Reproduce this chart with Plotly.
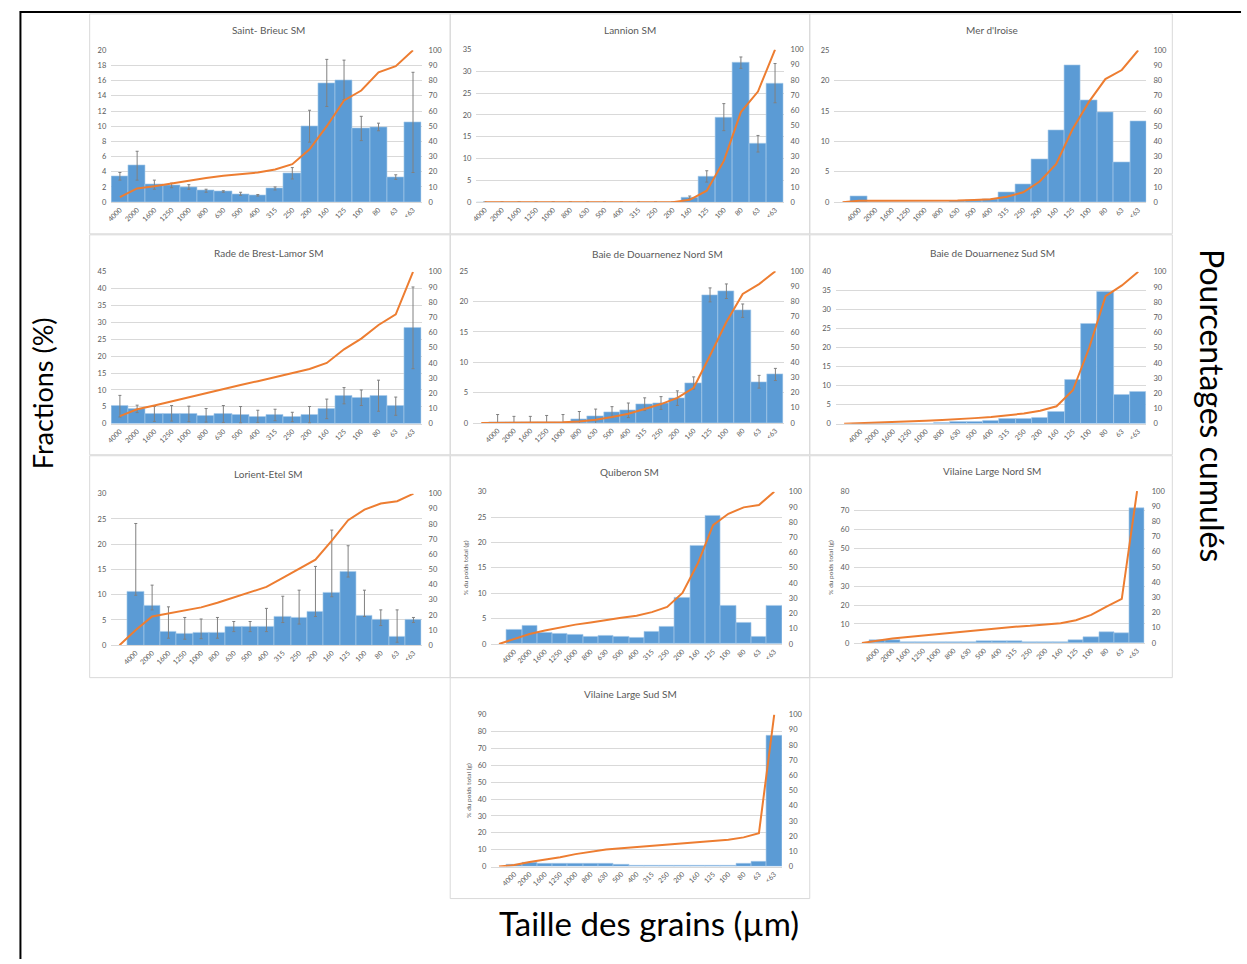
import plotly.graph_objects as go

W, H = 1247, 964

# Sieve classes (µm)
SIZES = ["4000", "2000", "1600", "1250", "1000", "800", "630", "500", "400",
         "315", "250", "200", "160", "125", "100", "80", "63", "<63"]

# ---- Weight fractions (%) per sieve class, error bars, cumulative curves ----
SB_FRAC = [3.4, 4.8, 2.3, 2.2, 2.0, 1.5, 1.4, 1.1, 0.9, 1.8, 3.8, 10.0, 15.7, 16.1, 9.7, 9.9, 3.3, 10.5]
SB_ERR = [0.5, 1.9, 0.6, 0.3, 0.3, 0.2, 0.1, 0.2, 0.1, 0.2, 0.75, 2.1, 3.1, 2.6, 1.6, 0.5, 0.3, 6.6]
SB_CUM = [3.3, 9, 10.4, 12.4, 14.2, 15.9, 17.4, 18.5, 19.5, 21.5, 25, 34.8, 50, 67, 73.5, 85.5, 89.5, 100]

LAN_FRAC = [0, 0, 0, 0, 0, 0, 0, 0, 0, 0, 0, 0, 1.1, 5.9, 19.5, 32.0, 13.4, 27.3]
LAN_ERR = [0, 0, 0, 0, 0, 0, 0, 0, 0, 0, 0, 0, 0.3, 1.3, 3.1, 1.3, 1.9, 4.5]
LAN_CUM = [0, 0, 0, 0, 0, 0, 0, 0, 0, 0, 0, 0, 1.5, 7.5, 27, 59, 72.5, 100]

IRO_FRAC = [0.9, 0, 0, 0, 0, 0, 0.2, 0.3, 0.5, 1.6, 3.0, 7.1, 11.8, 22.6, 16.7, 14.8, 6.5, 13.3]
IRO_CUM = [0, 0.9, 0.9, 0.9, 0.9, 0.9, 0.9, 1.1, 1.4, 1.9, 3.5, 6.5, 13.6, 25, 48, 66, 81, 87, 100]

RAD_FRAC = [5.2, 4.4, 2.9, 3.1, 2.9, 2.5, 2.9, 2.7, 2.2, 2.6, 2.0, 2.7, 4.4, 8.3, 7.7, 8.3, 5.2, 28.4]
RAD_ERR = [3.2, 1.1, 2.2, 2.3, 2.3, 2.0, 2.5, 2.4, 1.8, 1.7, 1.4, 2.4, 2.9, 2.4, 2.3, 4.6, 2.7, 12.1]
RAD_CUM = [5, 9.5, 12, 14.8, 17.5, 20.2, 23, 25.5, 28, 30.5, 33, 36, 40, 49, 56, 65, 72, 100]

DN_FRAC = [0.1, 0.1, 0.1, 0.1, 0.1, 0.6, 1.1, 1.8, 2.1, 3.1, 3.3, 4.1, 6.6, 21.1, 21.7, 18.5, 6.8, 8.0]
DN_ERR = [1.3, 1.0, 1.0, 1.15, 1.3, 1.3, 1.2, 0.9, 1.2, 1.05, 1.05, 1.2, 1.0, 1.15, 1.2, 1.1, 1.05, 1.0]
DN_CUM = [0, 0.1, 0.2, 0.3, 0.4, 0.5, 1.1, 2.2, 4.0, 6.1, 9.2, 12.5, 16.6, 23.2, 44.5, 66.5, 85, 91.5, 100]

DS_FRAC = [0.1, 0.1, 0.1, 0.1, 0.1, 0.2, 0.4, 0.6, 0.7, 1.2, 1.3, 1.7, 3.2, 11.6, 26.2, 34.7, 7.5, 8.5]
DS_CUM = [0, 0.3, 0.6, 1.0, 1.5, 2.0, 2.5, 3.0, 3.7, 4.5, 5.5, 6.7, 8.5, 11.5, 22, 50, 84, 91, 100]

LOR_FRAC = [10.7, 7.8, 2.6, 2.2, 2.5, 2.5, 3.6, 3.6, 3.6, 5.7, 5.4, 6.7, 10.4, 14.5, 5.9, 5.0, 1.6, 5.0]
LOR_ERR_UP = [13.4, 4.1, 5.0, 3.3, 2.7, 3.0, 1.1, 1.1, 3.7, 4.0, 5.5, 8.9, 12.4, 5.2, 5.0, 2.0, 5.4, 0.5]
LOR_ERR_DOWN = [0.8, 0.8, 1.2, 1.0, 1.2, 1.1, 0.9, 0.9, 0.9, 1.2, 1.2, 1.0, 0.8, 1.0, 0.2, 1.1, 1.0, 0.5]
LOR_CUM = [0, 10, 19, 21, 23, 25, 28, 31.5, 34.5, 38.5, 44.5, 50.5, 56.5, 69, 82.5, 89.5, 93.5, 95, 100]

QUI_FRAC = [2.9, 3.6, 2.3, 2.1, 1.8, 1.4, 1.7, 1.4, 1.3, 2.4, 3.4, 9.2, 19.3, 25.2, 7.5, 4.2, 1.5, 7.6]
QUI_CUM = [0, 3, 6.5, 8.8, 10.9, 12.7, 14.1, 15.8, 17.2, 18.5, 20.9, 24.3, 33.5, 52.8, 78, 85.5, 89.7, 91.2, 100]

VLN_FRAC = [1.5, 1.5, 0.5, 0.5, 0.5, 0.5, 0.5, 1.0, 1.0, 1.0, 0.7, 0.7, 0.7, 1.5, 3.0, 5.8, 5.2, 71.3]
VLN_CUM = [0, 1.5, 3, 4, 5, 6, 7, 8, 9, 10, 10.7, 11.3, 12, 13, 15, 18.5, 24, 29, 100]

VLS_FRAC = [1.0, 2.2, 1.5, 1.7, 2.0, 1.6, 1.5, 1.0, 0.8, 0.8, 0.8, 0.8, 0.8, 0.8, 0.8, 1.5, 2.8, 77.3]
VLS_CUM = [0, 1, 3, 4.5, 6.2, 8.2, 9.8, 11.2, 12, 12.8, 13.6, 14.4, 15.2, 16, 16.8, 17.6, 19.2, 22, 100]

STATIONS = [
    dict(title="Saint- Brieuc SM", frac=SB_FRAC, up=SB_ERR, down=SB_ERR, cum=SB_CUM, ymax=20, dtick=2),
    dict(title="Lannion SM", frac=LAN_FRAC, up=LAN_ERR, down=LAN_ERR, cum=LAN_CUM, ymax=35, dtick=5),
    dict(title="Mer d'Iroise", frac=IRO_FRAC, cum=IRO_CUM, ymax=25, dtick=5),
    dict(title="Rade de Brest-Lamor SM", frac=RAD_FRAC, up=RAD_ERR, down=RAD_ERR, cum=RAD_CUM, ymax=45, dtick=5),
    dict(title="Baie de Douarnenez Nord SM", frac=DN_FRAC, up=DN_ERR, down=DN_ERR, cum=DN_CUM, ymax=25, dtick=5),
    dict(title="Baie de Douarnenez Sud SM", frac=DS_FRAC, cum=DS_CUM, ymax=40, dtick=5),
    dict(title="Lorient-Etel SM", frac=LOR_FRAC, up=LOR_ERR_UP, down=LOR_ERR_DOWN, cum=LOR_CUM, ymax=30, dtick=5),
    dict(title="Quiberon SM", frac=QUI_FRAC, cum=QUI_CUM, ymax=30, dtick=5, ytitle=True),
    dict(title="Vilaine Large Nord SM", frac=VLN_FRAC, cum=VLN_CUM, ymax=80, dtick=10, ytitle=True),
    dict(title="Vilaine Large Sud SM", frac=VLS_FRAC, cum=VLS_CUM, ymax=90, dtick=10, ytitle=True),
]

# Panel geometry in pixels: chart frame, plot area, title centre, y-title x
LAYOUT_PX = [
    dict(frame=(85, 10, 447, 232), plot=(106.7, 46.7, 418.3, 200.0), tpos=(265, 26)),
    dict(frame=(447, 10, 808, 232), plot=(473.3, 46.0, 781.7, 200.0), tpos=(628, 26)),
    dict(frame=(808, 10, 1172, 232), plot=(832.7, 46.7, 1146.0, 200.0), tpos=(991, 26)),
    dict(frame=(85, 233, 447, 455), plot=(106.7, 270.3, 418.3, 423.7), tpos=(265, 251)),
    dict(frame=(447, 233, 808, 455), plot=(470.0, 269.7, 781.7, 423.0), tpos=(655, 252)),
    dict(frame=(808, 233, 1172, 455), plot=(834.3, 270.3, 1146.0, 423.7), tpos=(991, 251)),
    dict(frame=(85, 456, 447, 680), plot=(106.7, 494.3, 418.3, 647.3), tpos=(265, 474)),
    dict(frame=(447, 456, 808, 680), plot=(488.3, 492.3, 780.0, 646.0), tpos=(627, 472), ytx=463),
    dict(frame=(808, 456, 1172, 680), plot=(852.7, 491.7, 1144.3, 645.0), tpos=(991, 471), ytx=828),
    dict(frame=(447, 680, 808, 903), plot=(488.3, 717.3, 780.0, 870.7), tpos=(628, 697), ytx=465),
]

BAR_BLUE = "#5B9BD5"
LINE_ORANGE = "#ED7D31"
GRID = "#D9D9D9"
TXT = "#595959"
FONT = "Lato, 'Open Sans', sans-serif"


def fx(x):
    return x / W


def fy(y):
    return 1 - y / H


fig = go.Figure()
layout = dict(
    width=W, height=H, margin=dict(l=0, r=0, t=0, b=0),
    paper_bgcolor="white", plot_bgcolor="white", showlegend=False,
    font=dict(family=FONT, color=TXT), bargap=0,
)
shapes = []
annotations = []

for i, (st, geo) in enumerate(zip(STATIONS, LAYOUT_PX)):
    xn = i + 1
    yl, yr = 2 * i + 1, 2 * i + 2
    xref = "x" if xn == 1 else f"x{xn}"
    ylref = "y" if yl == 1 else f"y{yl}"
    yrref = f"y{yr}"
    xkey = "xaxis" if xn == 1 else f"xaxis{xn}"
    ylkey = "yaxis" if yl == 1 else f"yaxis{yl}"
    yrkey = f"yaxis{yr}"

    ncat = len(st["cum"])
    lead = ncat - len(st["frac"])  # an empty leading class carries the 0 start of the curve
    bar_x = [lead + j for j in range(len(st["frac"]))]
    line_x = list(range(ncat))

    err = None
    if "up" in st:
        err = dict(type="data", symmetric=False, array=st["up"], arrayminus=st["down"],
                   color="#808080", thickness=1, width=1.5)

    fig.add_trace(go.Bar(
        x=bar_x, y=st["frac"], xaxis=xref, yaxis=ylref, width=1.0,
        marker=dict(color=BAR_BLUE, line=dict(color="#A9CBEA", width=0.6)),
        error_y=err, hoverinfo="skip",
    ))
    fig.add_trace(go.Scatter(
        x=line_x, y=st["cum"], xaxis=xref, yaxis=yrref, mode="lines",
        line=dict(color=LINE_ORANGE, width=2), cliponaxis=False, hoverinfo="skip",
    ))

    x0, y0, x1, y1 = geo["plot"]
    layout[xkey] = dict(
        domain=[fx(x0), fx(x1)], anchor=ylref, range=[-0.5, ncat - 0.5],
        tickmode="array", tickvals=bar_x, ticktext=SIZES, tickangle=-45,
        tickfont=dict(size=7, color=TXT, family=FONT), showgrid=False,
        showline=True, linecolor=GRID, linewidth=1, ticks="", fixedrange=True,
    )
    layout[ylkey] = dict(
        domain=[fy(y1), fy(y0)], anchor=xref, range=[0, st["ymax"]], dtick=st["dtick"],
        showgrid=True, gridcolor=GRID, gridwidth=1, zeroline=False, showline=False,
        tickfont=dict(size=7.5, color=TXT, family=FONT), ticks="", ticklabelstandoff=4,
        fixedrange=True,
    )
    layout[yrkey] = dict(
        overlaying=ylref, side="right", anchor=xref, range=[0, 100], dtick=10,
        showgrid=False, zeroline=False, showline=False,
        tickfont=dict(size=7.5, color=TXT, family=FONT), ticks="", ticklabelstandoff=6,
        fixedrange=True,
    )

    fx0, fy0, fx1, fy1 = geo["frame"]
    shapes.append(dict(type="rect", xref="paper", yref="paper",
                       x0=fx(fx0), x1=fx(fx1), y0=fy(fy1), y1=fy(fy0),
                       line=dict(color=GRID, width=1), layer="below"))

    tx, ty = geo["tpos"]
    annotations.append(dict(text=st["title"], x=fx(tx), y=fy(ty), xref="paper", yref="paper",
                            showarrow=False, xanchor="center", yanchor="middle",
                            font=dict(size=10, color=TXT, family=FONT)))
    if st.get("ytitle"):
        annotations.append(dict(text="% du poids total (g)", x=fx(geo["ytx"]), y=fy((y0 + y1) / 2),
                                xref="paper", yref="paper", showarrow=False, textangle=-90,
                                xanchor="center", yanchor="middle",
                                font=dict(size=6.5, color=TXT, family=FONT)))

# Shared axis labels of the whole figure
annotations.append(dict(text="Fractions (%)", x=fx(37), y=fy(393), xref="paper", yref="paper",
                        showarrow=False, textangle=-90, xanchor="center", yanchor="middle",
                        font=dict(size=27, color="black", family=FONT)))
annotations.append(dict(text="Pourcentages cumulés", x=fx(1213), y=fy(405), xref="paper", yref="paper",
                        showarrow=False, textangle=90, xanchor="center", yanchor="middle",
                        font=dict(size=32, color="black", family=FONT)))
annotations.append(dict(text="Taille des grains (µm)", x=fx(647), y=fy(928), xref="paper", yref="paper",
                        showarrow=False, xanchor="center", yanchor="middle",
                        font=dict(size=33, color="black", family=FONT)))

# Outer black frame of the figure box
shapes.append(dict(type="line", xref="paper", yref="paper", x0=fx(15), x1=fx(1241), y0=fy(8), y1=fy(8),
                   line=dict(color="black", width=2)))
shapes.append(dict(type="line", xref="paper", yref="paper", x0=fx(15.5), x1=fx(15.5), y0=fy(7), y1=0,
                   line=dict(color="black", width=2)))

layout["shapes"] = shapes
layout["annotations"] = annotations
fig.update_layout(**layout)

fig.write_html("out.html")
